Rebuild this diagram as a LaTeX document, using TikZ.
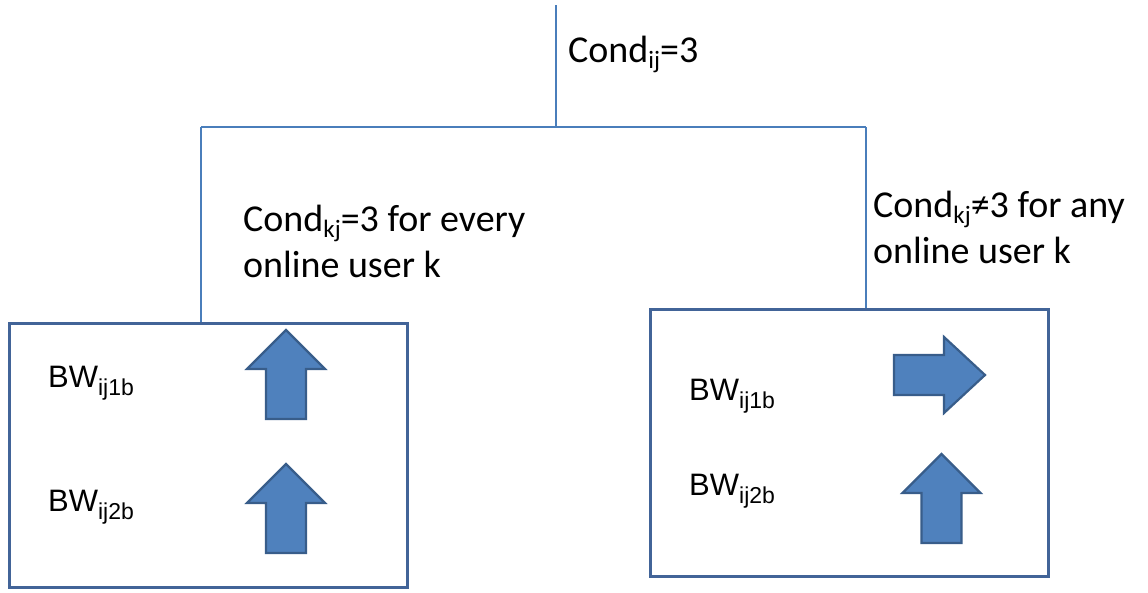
\documentclass[tikz,border=0pt]{standalone}
\usepackage{fontspec}
\setmainfont{Carlito}
\newfontfamily\arialf{Liberation Sans}
\definecolor{linkblue}{RGB}{74,126,187}
\definecolor{boxblue}{RGB}{66,100,152}
\definecolor{arrowfill}{RGB}{79,129,189}
\definecolor{arrowline}{RGB}{56,93,138}
% subscripts of the condition labels and of the BW labels
\newcommand\condsub[1]{\raisebox{-6pt}{\fontsize{25}{25}\selectfont #1}}
\newcommand\bwsub[1]{\raisebox{-8pt}{\fontsize{23}{23}\selectfont #1}}
\tikzset{
  link/.style={draw=linkblue, line width=1.5pt},
  panel/.style={draw=boxblue, line width=3pt, fill=white, inner sep=0pt},
  condtext/.style={font=\fontsize{38}{46}\selectfont, inner sep=0pt, align=left, anchor=base west},
  bwtext/.style={font=\arialf\fontsize{31}{34}\selectfont, inner sep=0pt, anchor=base west},
  blockarrow/.style={fill=arrowfill, draw=arrowline, line width=2.2pt, line join=miter},
  uparrow/.pic={\path[blockarrow] (-20,0) -- (-20,-50) -- (-39,-50) -- (0,-89) -- (39,-50) -- (20,-50) -- (20,0) -- cycle;},
  rightarrow/.pic={\path[blockarrow] (0,-20) -- (50,-20) -- (50,-38) -- (91,0) -- (50,38) -- (50,20) -- (0,20) -- cycle;}
}
\begin{document}
\begin{tikzpicture}[x=1pt, y=-1pt]
\useasboundingbox (0,0) rectangle (1148,592);

% tree of conditions
\coordinate (root) at (556,5);
\coordinate (split) at (556,127);
\coordinate (jl) at (201,127);
\coordinate (jr) at (866,127);

% the two result panels
\node[panel, minimum width=398pt, minimum height=264pt] (lbox) at (208,455) {};
\node[panel, minimum width=398pt, minimum height=267pt] (rbox) at (849,442.5) {};

\draw[link] (root) -- (split);
\draw[link] (jl) -- (jr);
\draw[link] (jl) -- (jl |- lbox.north);
\draw[link] (jr) -- (jr |- rbox.north);

% condition labels (anchored on the baseline of their last line)
\node[condtext] (cij) at (568,62) {Cond\condsub{ij}=3};
\node[condtext] (cevery) at (243,277) {Cond\condsub{kj}=3 for every\\online user k};
\node[condtext] (cany) at (873,263) {Cond\condsub{kj}≠3 for any\\online user k};

% left panel
\node[bwtext] (l1) at (48,387) {BW\bwsub{ij1b}};
\node[bwtext] (l2) at (48,511) {BW\bwsub{ij2b}};
\pic at (286,419) {uparrow};
\pic at (286,553) {uparrow};

% right panel
\node[bwtext] (r1) at (689,400) {BW\bwsub{ij1b}};
\node[bwtext] (r2) at (689,495) {BW\bwsub{ij2b}};
\pic at (894,375) {rightarrow};
\pic at (941.5,543) {uparrow};
\end{tikzpicture}
\end{document}
